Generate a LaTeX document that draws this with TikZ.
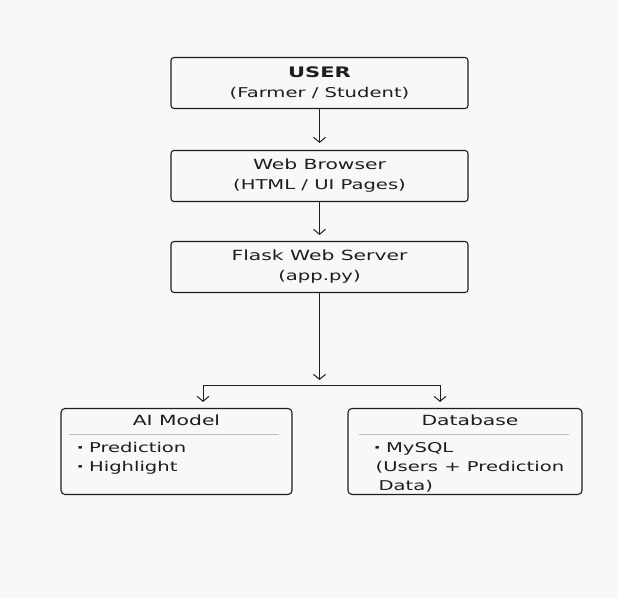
\documentclass[tikz,border=0pt]{standalone}
\usepackage{fontspec}
\setmainfont{DejaVu Sans}[FakeStretch=1.45]
\usetikzlibrary{arrows.meta}
\definecolor{paper}{RGB}{250,247,247}
\definecolor{ink}{RGB}{30,30,30}
\definecolor{rulegray}{RGB}{190,190,190}
\newcommand{\dotitem}{{\bfseries·}\hspace{5pt}}
\tikzstyle{line} = [draw=ink, line width=1pt, -{Straight Barb[length=5pt,width=12pt]}]
\tikzstyle{tier} = [draw=ink, rectangle, rounded corners=3pt, line width=1.1pt, minimum width=297pt, minimum height=51pt, align=center, text=ink, font=\fontsize{13.5}{20}\selectfont]
\tikzstyle{panel} = [draw=ink, rectangle, rounded corners=4pt, line width=1.1pt, minimum height=86pt]
\tikzstyle{boxtitle} = [text=ink, anchor=base, inner sep=0pt, font=\fontsize{14}{16}\selectfont]
\tikzstyle{listtext} = [text=ink, anchor=north west, align=left, inner sep=0pt, font=\fontsize{13.5}{19}\selectfont]
\tikzstyle{sep} = [draw=rulegray, line width=0.8pt]

\begin{document}
\begin{tikzpicture}[x=1pt, y=-1pt]
	\fill [paper] (0,0) rectangle (618,598);
	\useasboundingbox (0,0) rectangle (618,598);
	
	\node [tier] (user) at (319.5,83) {{\fontsize{14.5}{20}\selectfont\bfseries USER}\\(Farmer / Student)};
	\node [tier, below of=user, node distance=93pt] (browser) {{\fontsize{14}{20}\selectfont Web Browser}\\(HTML / UI Pages)};
	\node [tier, below of=browser, node distance=91pt] (flask) {{\fontsize{14}{20}\selectfont Flask Web Server}\\(app.py)};
	
	\node [panel, minimum width=231pt, below of=flask, node distance=184.5pt, xshift=-143pt] (aimodel) {};
	\node [panel, minimum width=234pt, below of=flask, node distance=184.5pt, xshift=145.5pt] (database) {};
	
	\node [boxtitle] (aititle) at ([yshift=-18pt]aimodel.north) {AI Model};
	\node [boxtitle] (dbtitle) at ([xshift=5pt, yshift=-18pt]database.north) {Database};
	\draw [sep] ([xshift=9pt, yshift=-26pt]aimodel.north west) -- ([xshift=-14pt, yshift=-26pt]aimodel.north east);
	\draw [sep] ([xshift=12pt, yshift=-26pt]database.north west) -- ([xshift=-14pt, yshift=-26pt]database.north east);
	\node [listtext] (aiitems) at ([xshift=16pt, yshift=-34pt]aimodel.north west) {\dotitem Prediction\\\dotitem Highlight};
	\node [listtext] (dbitems) at ([xshift=26pt, yshift=-34.5pt]database.north west) {\dotitem MySQL\\\hspace*{2pt}(Users + Prediction\\\hspace*{5pt}Data)};
	
	\path [line, shorten >=7pt] (user) -- (browser);
	\path [line, shorten >=6pt] (browser) -- (flask);
	
	\coordinate [below of=flask, node distance=118pt] (split);
	\coordinate [left of=split, node distance=116.5pt] (splitl);
	\coordinate [right of=split, node distance=120.5pt] (splitr);
	\path [line, shorten >=5pt] (flask) -- (split);
	\draw [ink, line width=1pt] (splitl) -- (splitr);
	\path [line, shorten >=6pt] (splitl) -- (splitl |- aimodel.north);
	\path [line, shorten >=6pt] (splitr) -- (splitr |- database.north);
\end{tikzpicture}
\end{document}
